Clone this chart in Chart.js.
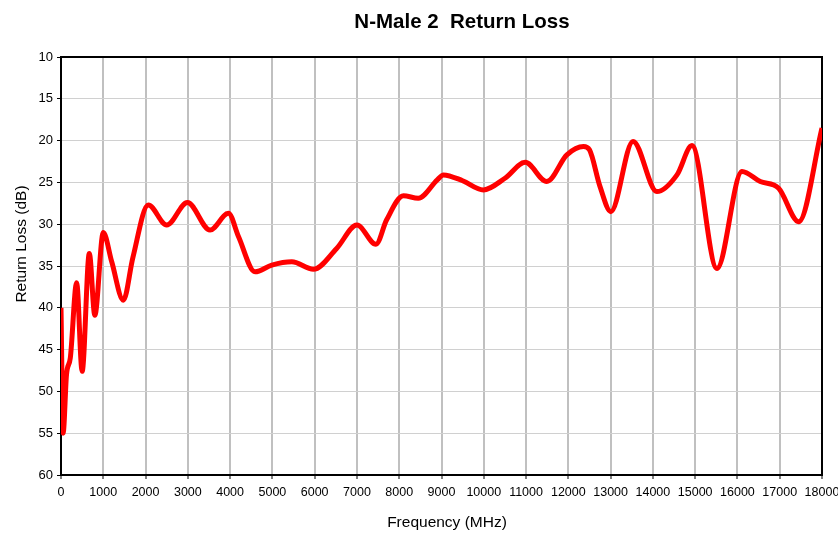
<!DOCTYPE html>
<html>
<head>
<meta charset="utf-8">
<script src="https://cdn.jsdelivr.net/npm/chart.js@4/dist/chart.umd.min.js"></script>
<style>
  html, body { margin: 0; padding: 0; background: #fff; }
  #wrap { width: 838px; height: 533px; }
</style>
</head>
<body>
<div id="wrap"><canvas id="mainChart" width="838" height="533"></canvas></div>
<script>
const chartTitle = 'N-Male 2  Return Loss';
const xTitle = 'Frequency (MHz)';
const yTitle = 'Return Loss (dB)';

// valores
const freqMHz = [0, 50, 130, 220, 370, 500, 670, 800, 1000, 1200, 1475, 1700, 2065, 2500, 2990, 3525, 3960, 4200,
  4590, 4985, 5460, 5970, 6520, 7000, 7450, 7700, 8100, 8450, 8900, 9045, 9500, 9990, 10500, 10980, 11490, 11965,
  12360, 12500, 12750, 13005, 13530, 14095, 14570, 14925, 15515, 16107, 16540, 16975, 17450, 18000];
const returnLossDb = [40, 55, 48, 46, 37, 47.6, 33.5, 40.9, 31, 34.5, 39.1, 34, 27.7, 30.1, 27.4, 30.7, 28.7, 31.5,
  35.7, 34.9, 34.5, 35.4, 32.9, 30.1, 32.4, 29.5, 26.6, 26.9, 24.7, 24.1, 24.8, 25.9, 24.5, 22.6, 24.9, 21.7,
  20.7, 21.1, 25.5, 28.5, 20.1, 26.1, 24.1, 20.6, 35.3, 23.7, 24.9, 25.7, 29.7, 18.5];

const xTickValues = [0, 1000, 2000, 3000, 4000, 5000, 6000, 7000, 8000, 9000, 10000,
  11000, 12000, 13000, 14000, 15000, 16000, 17000, 18000];
const xTickLabels = ['0', '1000', '2000', '3000', '4000', '5000', '6000', '7000', '8000', '9000', '10000',
  '11000', '12000', '13000', '14000', '15000', '16000', '17000', '18000'];
const yTickValues = [10, 15, 20, 25, 30, 35, 40, 45, 50, 55, 60];
const yTickLabels = ['10', '15', '20', '25', '30', '35', '40', '45', '50', '55', '60'];

const fuente = 'Arial, "Liberation Sans", sans-serif';

const marcoYTextos = {
  id: 'marcoYTextos',
  beforeDatasetsDraw(chart) {
    const { ctx, chartArea: a } = chart;
    ctx.save();
    ctx.strokeStyle = '#000';
    ctx.lineWidth = 2;
    ctx.strokeRect(a.left, a.top, a.right - a.left, a.bottom - a.top);
    ctx.restore();
  },
  afterDraw(chart) {
    const ctx = chart.ctx;
    ctx.save();
    ctx.fillStyle = '#000';
    ctx.textAlign = 'center';
    ctx.textBaseline = 'middle';
    ctx.font = 'bold 20.5px ' + fuente;
    ctx.fillText(chartTitle, 462, 22);
    ctx.font = '15.5px ' + fuente;
    ctx.fillText(xTitle, 447, 523);
    ctx.translate(22, 244);
    ctx.rotate(-Math.PI / 2);
    ctx.fillText(yTitle, 0, 0);
    ctx.restore();
  }
};

const puntos = freqMHz.map((f, i) => ({ x: f, y: returnLossDb[i] }));

new Chart(document.getElementById('mainChart'), {
  type: 'line',
  data: {
    datasets: [{
      data: puntos,
      borderColor: '#ff0000',
      borderWidth: 5,
      pointRadius: 0,
      cubicInterpolationMode: 'monotone',
      fill: false
    }]
  },
  options: {
    responsive: false,
    animation: false,
    layout: { autoPadding: false, padding: { top: 57, right: 16, bottom: 0, left: 0 } },
    plugins: { legend: { display: false }, tooltip: { enabled: false } },
    scales: {
      x: {
        type: 'linear', min: 0, max: 18000,
        afterFit: (s) => { s.height = 58; s.paddingLeft = 0; s.paddingRight = 0; },
        ticks: {
          stepSize: 1000, color: '#000', padding: 6, maxRotation: 0, autoSkip: false,
          font: { family: fuente, size: 12.5 },
          callback: (v) => xTickLabels[xTickValues.indexOf(v)]
        },
        grid: { color: '#c0c0c0', lineWidth: 2, tickColor: '#000', tickLength: 4, tickWidth: 1 },
        border: { color: '#000', width: 2 }
      },
      y: {
        min: 10, max: 60, reverse: true,
        afterFit: (s) => { s.width = 61; s.paddingTop = 0; s.paddingBottom = 0; },
        ticks: {
          stepSize: 5, color: '#000', padding: 4,
          font: { family: fuente, size: 13 },
          callback: (v) => yTickLabels[yTickValues.indexOf(v)]
        },
        grid: { color: '#d0d0d0', lineWidth: 1, tickColor: '#000', tickLength: 4, tickWidth: 1 },
        border: { color: '#000', width: 2 }
      }
    }
  },
  plugins: [marcoYTextos]
});
</script>
</body>
</html>
